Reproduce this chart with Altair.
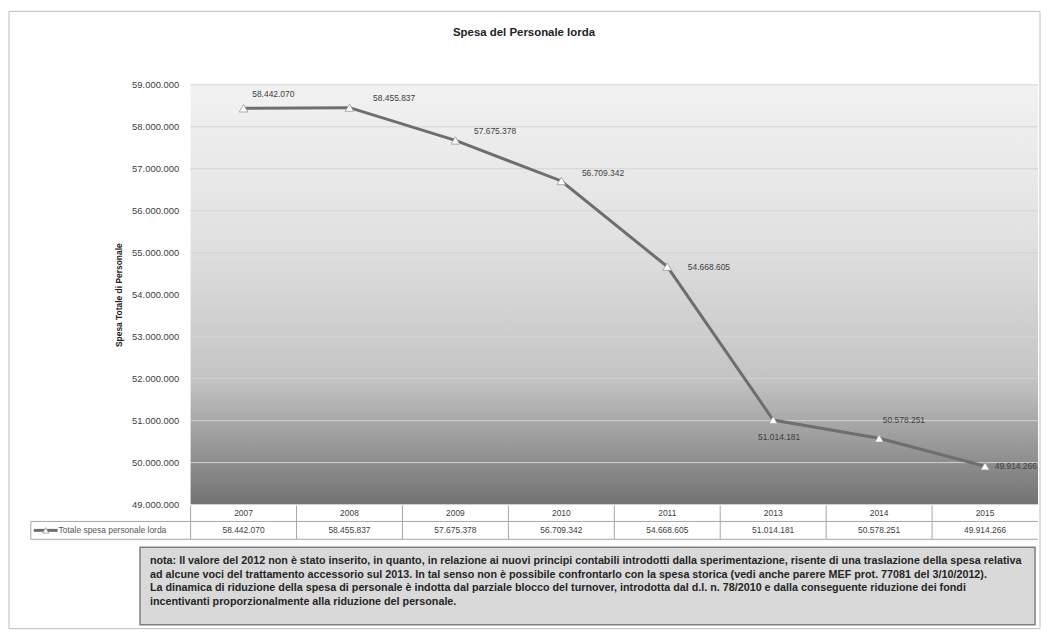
import altair as alt
import pandas as pd

years = ["2007", "2008", "2009", "2010", "2011", "2013", "2014", "2015"]
values = [58442070, 58455837, 57675378, 56709342, 54668605, 51014181, 50578251, 49914266]
y_ticks = [49000000, 50000000, 51000000, 52000000, 53000000, 54000000,
           55000000, 56000000, 57000000, 58000000, 59000000]
title_text = "Spesa del Personale lorda"
y_title = "Spesa Totale di Personale"
series_name = "Totale spesa personale lorda"
note_lines = [
    "nota: Il valore del 2012 non è stato inserito, in quanto, in relazione ai nuovi principi contabili introdotti dalla sperimentazione, risente di una traslazione della spesa relativa",
    "ad alcune voci del trattamento accessorio sul 2013. In tal senso non è possibile confrontarlo  con la spesa storica (vedi anche parere MEF prot. 77081 del 3/10/2012).",
    " La dinamica di riduzione della spesa di personale è indotta dal parziale blocco del turnover, introdotta dal d.l. n. 78/2010 e dalla conseguente riduzione dei fondi",
    "incentivanti proporzionalmente alla riduzione del personale.",
]
# label offsets (dx, dy) per year, style only
label_offsets = {"2007": (30, -14), "2008": (45, -10), "2009": (40, -9), "2010": (42, -8),
                 "2011": (42, 0), "2013": (6, 17), "2014": (25, -18), "2015": (31, 0)}

W, H = 854, 423
FONT = "Liberation Sans"
TXT = "#404040"

df = pd.DataFrame({"year": years, "value": values})
fmt = "replace(replace(format(datum.value, ','), ',', '.'), ',', '.')"
one = pd.DataFrame({"a": [0]})
ticks_df = pd.DataFrame({"value": y_ticks})

yscale = alt.Scale(domain=[49000000, 59000000], nice=False, zero=False)
yaxis = alt.Axis(values=y_ticks, labelExpr=fmt, title=y_title, grid=False,
                 ticks=False, domain=False, labelFont=FONT, labelFontSize=9.5,
                 labelColor=TXT, labelPadding=12, titleFont=FONT, titleFontSize=8.5,
                 titleFontWeight="bold", titleColor="#222222",
                 titleX=-73, titleY=H / 2, titleAngle=270, titleAlign="center",
                 titleBaseline="middle")
xs = alt.X("year:N", sort=years, axis=None,
           scale=alt.Scale(paddingInner=0, paddingOuter=0))
ys = alt.Y("value:Q", scale=yscale, axis=yaxis)

bg = alt.Chart(one).mark_rect(
    fill=alt.LinearGradient(gradient="linear", x1=0, x2=0, y1=0, y2=1, stops=[
        alt.GradientStop(color="#f2f2f2", offset=0),
        alt.GradientStop(color="#e2e2e2", offset=0.35),
        alt.GradientStop(color="#c4c4c4", offset=0.7),
        alt.GradientStop(color="#727272", offset=1)])
).encode(x=alt.value(0), x2=alt.value(W), y=alt.value(0), y2=alt.value(H))

grid = alt.Chart(ticks_df).mark_rule(color="#d3d3d3", strokeWidth=1).encode(
    y=ys, x=alt.value(0), x2=alt.value(W))

base = alt.Chart(df).transform_calculate(lab=fmt)

line = base.mark_line(color="#6e6e6e", strokeWidth=3).encode(x=xs, y=ys)
pts = base.mark_point(shape="triangle-up", filled=True, fill="white", stroke="#9a9a9a",
                      strokeWidth=0.8, size=75, opacity=1).encode(x=xs, y=ys)

labels = []
for yr in years:
    dx, dy = label_offsets[yr]
    labels.append(base.transform_filter(alt.datum.year == yr).mark_text(
        font=FONT, fontSize=8.5, color=TXT, dx=dx, dy=dy, clip=True,
        align="center", baseline="middle").encode(x=xs, y=ys, text="lab:N"))

# data table below the plot
r1_top, r1_bot, r2_bot = H + 1, H + 17, H + 35
hdr_left = -161
tab_year = base.mark_text(font=FONT, fontSize=8.5, color=TXT, baseline="middle").encode(
    x=xs, y=alt.value((r1_top + r1_bot) / 2), text="year:N")
tab_val = base.mark_text(font=FONT, fontSize=8.5, color=TXT, baseline="middle").encode(
    x=xs, y=alt.value((r1_bot + r2_bot) / 2), text="lab:N")
vsep = base.mark_rule(color="#a6a6a6", strokeWidth=1).encode(
    x=alt.X("year:N", sort=years, axis=None, bandPosition=0,
            scale=alt.Scale(paddingInner=0, paddingOuter=0)),
    y=alt.value(r1_top), y2=alt.value(r2_bot))
hl1 = alt.Chart(one).mark_rule(color="#a6a6a6").encode(
    x=alt.value(0), x2=alt.value(W), y=alt.value(r1_bot))
hl2 = alt.Chart(one).mark_rule(color="#a6a6a6").encode(
    x=alt.value(hdr_left), x2=alt.value(0), y=alt.value(r1_bot))
hl3 = alt.Chart(one).mark_rule(color="#a6a6a6").encode(
    x=alt.value(hdr_left), x2=alt.value(W), y=alt.value(r2_bot))
vl0 = alt.Chart(one).mark_rule(color="#a6a6a6").encode(
    x=alt.value(hdr_left), y=alt.value(r1_bot), y2=alt.value(r2_bot))
leg_line = alt.Chart(one).mark_rule(color="#6e6e6e", strokeWidth=3).encode(
    x=alt.value(hdr_left + 3), x2=alt.value(hdr_left + 27), y=alt.value((r1_bot + r2_bot) / 2))
leg_pt = alt.Chart(one).mark_point(shape="triangle-up", filled=True, fill="white",
                                    stroke="#9a9a9a", strokeWidth=0.8, size=40, opacity=1).encode(
    x=alt.value(hdr_left + 15), y=alt.value((r1_bot + r2_bot) / 2))
leg_txt = alt.Chart(one).mark_text(font=FONT, fontSize=8.5, color="#555555", align="left",
                                   baseline="middle").encode(
    x=alt.value(hdr_left + 28), y=alt.value((r1_bot + r2_bot) / 2), text=alt.value(series_name))

# note box
note_box = alt.Chart(one).mark_rect(fill="#d9d9d9", stroke="#7f7f7f", strokeWidth=1.5).encode(
    x=alt.value(-51), x2=alt.value(851), y=alt.value(H + 43), y2=alt.value(H + 121))
note_txt = alt.Chart(one).mark_text(font=FONT, fontSize=10.85, fontWeight="bold", color="#262626",
                                    align="left", baseline="middle", lineHeight=13.7).encode(
    x=alt.value(-41), y=alt.value(H + 57), text=alt.value(note_lines))

# outer frame and title
frame = alt.Chart(one).mark_rect(fill=None, stroke="#bdbdbd", strokeWidth=1).encode(
    x=alt.value(-183), x2=alt.value(W + 2), y=alt.value(-74), y2=alt.value(H + 125))
title = alt.Chart(one).mark_text(font=FONT, fontSize=11.5, fontWeight="bold", color="#222222",
                                 align="center", baseline="middle").encode(
    x=alt.value(336), y=alt.value(-52), text=alt.value(title_text))

chart = alt.layer(
    bg, grid, line, pts, *labels, tab_year, tab_val, vsep, hl1, hl2, hl3, vl0,
    leg_line, leg_pt, leg_txt, note_box, note_txt, frame, title
).properties(
    width=W, height=H, padding=0, background="white"
).configure_view(stroke=None)

chart.save("out.html", embed_options={"renderer": "svg", "actions": False})
